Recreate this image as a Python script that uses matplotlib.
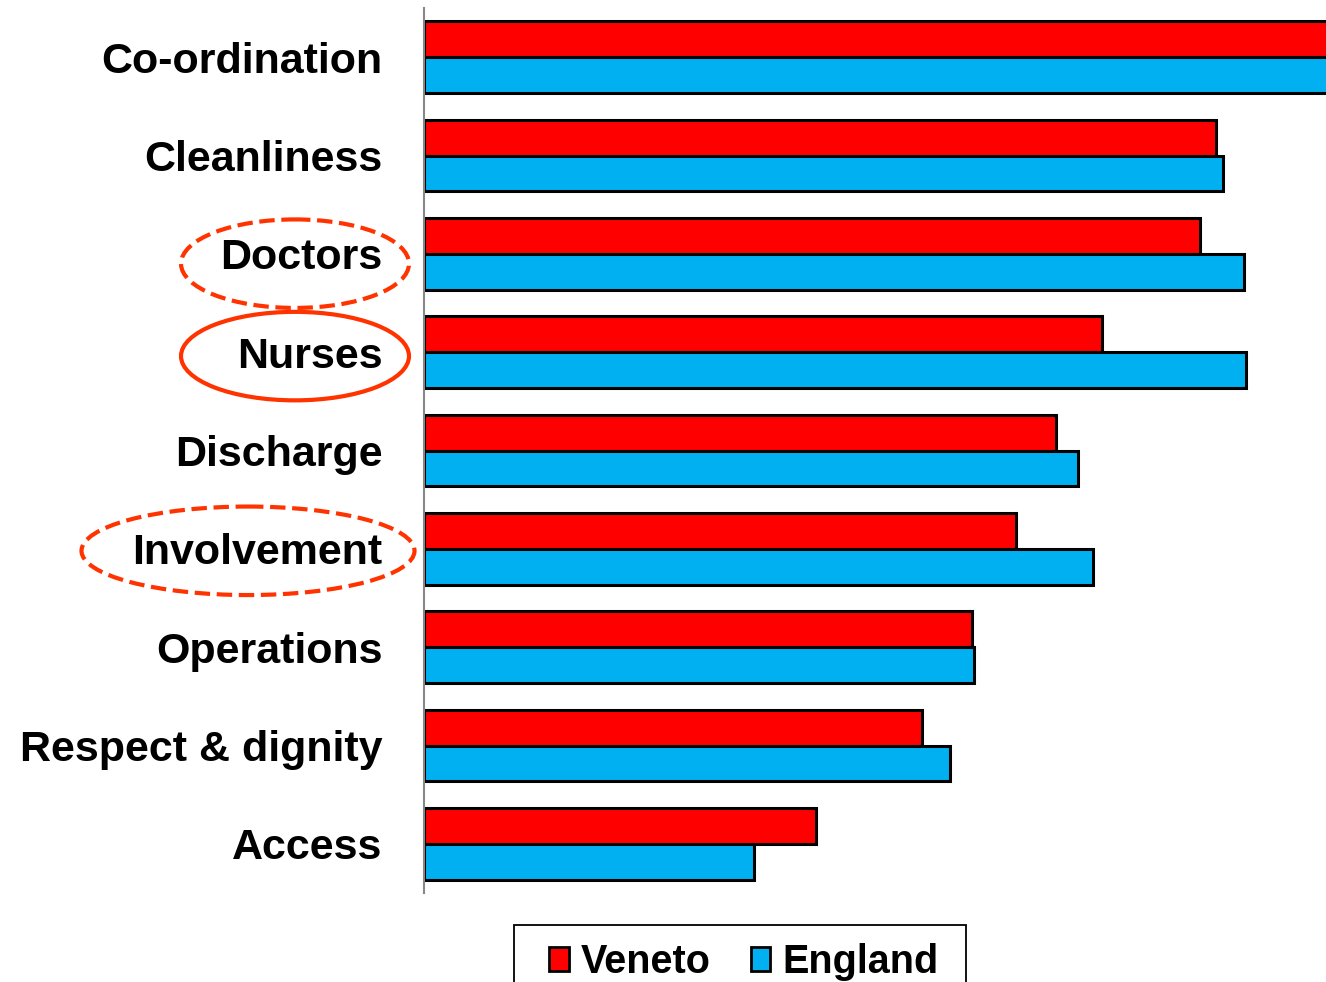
import matplotlib
matplotlib.use("Agg")
import matplotlib.pyplot as plt
import matplotlib.transforms as mtransforms
from matplotlib.patches import Ellipse, Patch, Rectangle
import numpy as np

CATEGORIES = ["Co-ordination", "Cleanliness", "Doctors", "Nurses", "Discharge",
              "Involvement", "Operations", "Respect & dignity", "Access"]
VENETO = [101, 87.8, 86.0, 75.2, 70.1, 65.6, 60.8, 55.2, 43.5]
ENGLAND = [101, 88.6, 90.9, 91.1, 72.5, 74.2, 61.0, 58.3, 36.6]

RED = "#FF0000"
BLUE = "#00B0F0"
CIRCLE = "#FF3300"

plt.rcParams["font.family"] = ["Liberation Sans", "DejaVu Sans"]
plt.rcParams["font.weight"] = "bold"

fig = plt.figure(figsize=(13.26, 9.82), dpi=100)
ax = fig.add_axes([424 / 1326, 1 - 893 / 982, 1 - 424 / 1326, (893 - 8) / 982])

y = np.arange(len(CATEGORIES))
h = 0.365
ax.barh(y - h / 2, VENETO, height=h, color=RED, edgecolor="black", linewidth=2.2, label="Veneto")
ax.barh(y + h / 2, ENGLAND, height=h, color=BLUE, edgecolor="black", linewidth=2.2, label="England")

ax.set_xlim(0, 100)
ax.set_ylim(len(CATEGORIES) - 0.5, -0.5)
ax.set_yticks(y)
ax.set_yticklabels(CATEGORIES, fontsize=31, fontweight="bold")
ax.tick_params(axis="y", length=0, pad=30)
ax.set_xticks([])
for s in ["top", "right", "bottom"]:
    ax.spines[s].set_visible(False)
ax.spines["left"].set_color("#888888")
ax.spines["left"].set_linewidth(1.5)

# highlight circles around some labels
trans = mtransforms.blended_transform_factory(fig.transFigure, ax.transData)
circles = [
    ("Doctors", 295, 228, 0.10, "--"),
    ("Nurses", 295, 228, 0.04, "-"),
    ("Involvement", 248, 333, 0.02, "--"),
]
for name, cx, w, dy, ls in circles:
    idx = CATEGORIES.index(name)
    e = Ellipse((cx / 1326, idx + dy), w / 1326, 0.9, transform=trans,
                fill=False, edgecolor=CIRCLE, linewidth=3, linestyle=ls,
                clip_on=False)
    fig.add_artist(e)

# legend, with its box drawn separately (box runs off the bottom edge)
handles = [Patch(facecolor=RED, edgecolor="black", linewidth=2),
           Patch(facecolor=BLUE, edgecolor="black", linewidth=2)]
leg = fig.legend(handles, ["Veneto", "England"], loc="upper center",
                 bbox_to_anchor=(744 / 1326, 1 - 925 / 982), ncol=2,
                 prop={"weight": "bold", "size": 28.5}, borderaxespad=0,
                 frameon=False, handlelength=0.5, handleheight=0.55,
                 handletextpad=0.3, columnspacing=1.0, borderpad=0.45)
box = Rectangle((514 / 1326, -0.05), (966 - 514) / 1326, 0.05 + 1 - 925 / 982,
                transform=fig.transFigure, fill=False, edgecolor="black",
                linewidth=1.3)
fig.add_artist(box)

fig.savefig("out.png", dpi=100)
